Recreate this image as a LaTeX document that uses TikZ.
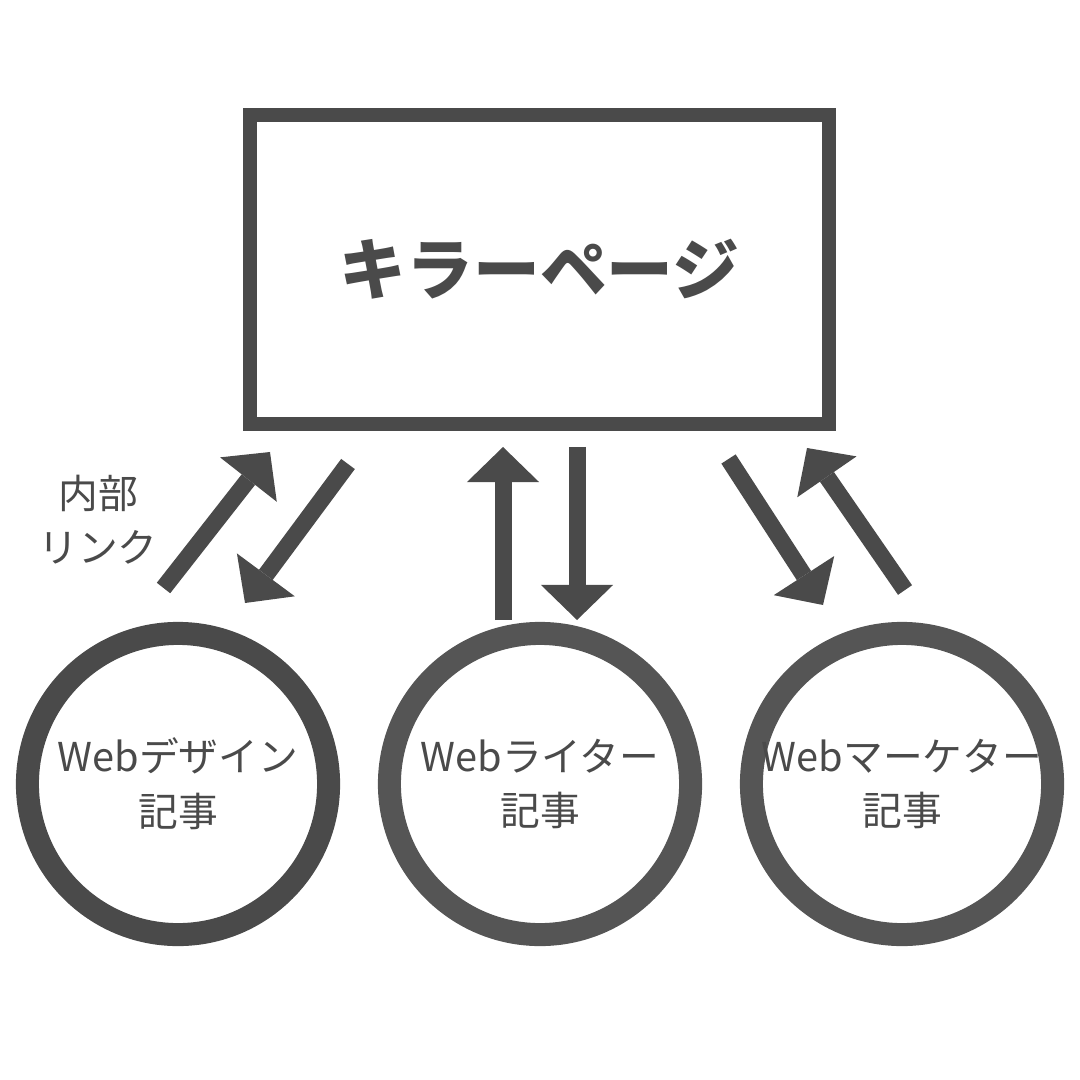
\documentclass[tikz,border=0pt]{standalone}
\usepackage{fontspec}
\setmainfont{Noto Sans CJK JP}
\usetikzlibrary{arrows.meta}
\definecolor{fonce}{HTML}{4A4A4A}
\definecolor{gris}{HTML}{555555}
\tikzset{
	fleche/.style={line width=0.17cm,color=fonce,-{Triangle[width=0.72cm,length=0.35cm,line width=0pt]}},
	article/.style={circle,line width=0.23cm,minimum size=3.01cm,inner sep=0pt,align=center,text=fonce,font=\fontsize{11.3pt}{15.6pt}\selectfont},
}
\begin{document}
\begin{tikzpicture}[x=0.01cm,y=-0.01cm]
		\useasboundingbox (0,0) rectangle (1080,1080);
		% Page
		\node[draw=fonce,line width=0.14cm,minimum width=5.79cm,minimum height=3.09cm,inner sep=0pt,text=fonce,font=\fontsize{19pt}{22pt}\selectfont\bfseries] (kira) at (539.5,269.5) {キラーページ};

		% Articles
		\node[article,draw=fonce] (design) at (178,784) {Webデザイン\\記事};
		\node[article,draw=gris] (writer) at (540,784) {Webライター\\記事};
		\node[article,draw=gris] (marketer) at (902,784) {Webマーケター\\記事};
		\node[text=fonce,align=center,font=\fontsize{11.3pt}{15.3pt}\selectfont] (lien) at (98,520) {内部\\リンク};

		% Liens
		\coordinate (a1) at (163.5,588); \coordinate (b1) at (270,452);
		\coordinate (a2) at (348,464);   \coordinate (b2) at (245,603);
		\coordinate (a3) at (503,620);   \coordinate (b3) at (503,447);
		\coordinate (a4) at (577,447);   \coordinate (b4) at (577,620);
		\coordinate (a5) at (728.5,459); \coordinate (b5) at (823,605);
		\coordinate (a6) at (905,590);   \coordinate (b6) at (807,448);
		\foreach \i in {1,...,6}{
			\draw[fleche] (a\i) -- (b\i);
			}
\end{tikzpicture}
\end{document}
